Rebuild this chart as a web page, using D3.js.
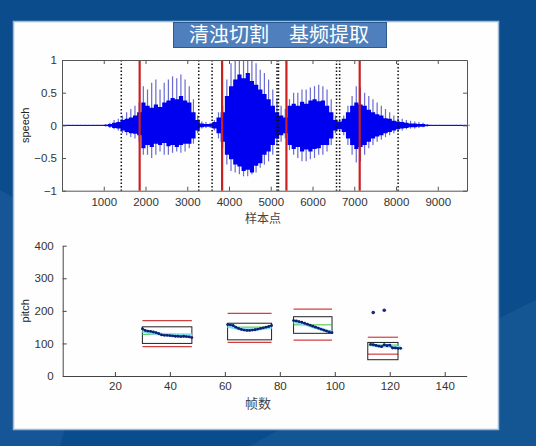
<!DOCTYPE html>
<meta charset="utf-8">
<style>
  body { margin: 0; background: #0b4c8c; }
  svg text { font-family: "Liberation Sans", Arial, sans-serif; }
  .tick text { fill: #333; font-size: 11.5px; font-family: "Liberation Sans Narrow", "Liberation Sans", Arial, sans-serif; }
  .zh { font-family: "Noto Sans CJK SC", sans-serif; }
</style>
<script src="https://d3js.org/d3.v7.min.js"></script>
<div id="chart"></div>
<script>
// ---- top plot: speech waveform, one entry per 100 samples (0..9700)
const sampleStep = 100;
const spikeTop = [0.01,0.01,0.01,0.01,0.01,0.01,0.01,0.01,0.01,0.01,
  0.02,0.04,0.08,0.1,0.15,0.2,0.25,0.3,0.35,0.6,
  0.55,0.65,0.7,0.55,0.65,0.7,0.75,0.72,0.78,0.7,
  0.6,0.4,0.15,0.06,0.05,0.04,0.08,0.2,0.3,0.7,
  0.95,1,1,1,1,1,0.95,0.85,0.8,0.7,
  0.55,0.4,0.3,0.25,0.4,0.5,0.5,0.55,0.55,0.58,
  0.6,0.62,0.6,0.55,0.4,0.15,0.1,0.15,0.3,0.45,
  0.6,0.58,0.5,0.45,0.4,0.35,0.3,0.25,0.2,0.15,
  0.12,0.1,0.08,0.07,0.06,0.05,0.04,0.02,0.01,0.01,
  0.01,0.01,0.01,0.01,0.01,0.01,0.01,0.01];
const coreTop = [0.005,0.005,0.005,0.005,0.005,0.005,0.005,0.005,0.005,0.005,
  0.01,0.02,0.04,0.05,0.08,0.1,0.12,0.15,0.2,0.35,
  0.3,0.27,0.32,0.28,0.35,0.38,0.42,0.4,0.45,0.38,
  0.35,0.2,0.08,0.03,0.02,0.02,0.05,0.12,0.2,0.45,
  0.6,0.7,0.78,0.72,0.8,0.68,0.62,0.55,0.48,0.4,
  0.3,0.2,0.15,0.12,0.3,0.33,0.3,0.36,0.33,0.38,
  0.4,0.37,0.38,0.3,0.2,0.08,0.06,0.1,0.2,0.3,
  0.35,0.32,0.3,0.24,0.2,0.17,0.15,0.11,0.1,0.07,
  0.06,0.05,0.04,0.03,0.03,0.02,0.02,0.01,0.005,0.005,
  0.005,0.005,0.005,0.005,0.005,0.005,0.005,0.005];
const coreBottom = [-0.005,-0.005,-0.005,-0.005,-0.005,-0.005,-0.005,-0.005,-0.005,-0.005,
  -0.01,-0.02,-0.04,-0.05,-0.08,-0.1,-0.12,-0.13,-0.15,-0.35,
  -0.3,-0.33,-0.28,-0.3,-0.27,-0.32,-0.3,-0.33,-0.3,-0.28,
  -0.28,-0.2,-0.08,-0.03,-0.02,-0.02,-0.05,-0.12,-0.25,-0.45,
  -0.52,-0.6,-0.63,-0.7,-0.68,-0.72,-0.62,-0.58,-0.45,-0.4,
  -0.3,-0.2,-0.15,-0.12,-0.3,-0.36,-0.33,-0.4,-0.37,-0.4,
  -0.36,-0.35,-0.3,-0.3,-0.2,-0.08,-0.06,-0.1,-0.2,-0.3,
  -0.36,-0.33,-0.3,-0.25,-0.2,-0.17,-0.15,-0.12,-0.1,-0.08,
  -0.06,-0.05,-0.04,-0.03,-0.03,-0.02,-0.02,-0.01,-0.005,-0.005,
  -0.005,-0.005,-0.005,-0.005,-0.005,-0.005,-0.005,-0.005];
const spikeBottom = [-0.01,-0.01,-0.01,-0.01,-0.01,-0.01,-0.01,-0.01,-0.01,-0.01,
  -0.02,-0.04,-0.06,-0.08,-0.12,-0.15,-0.18,-0.2,-0.25,-0.45,
  -0.45,-0.5,-0.45,-0.4,-0.45,-0.45,-0.42,-0.4,-0.42,-0.4,
  -0.35,-0.28,-0.12,-0.05,-0.04,-0.04,-0.08,-0.2,-0.35,-0.6,
  -0.7,-0.72,-0.75,-0.78,-0.78,-0.75,-0.72,-0.65,-0.6,-0.55,
  -0.45,-0.3,-0.25,-0.2,-0.38,-0.45,-0.5,-0.55,-0.55,-0.52,
  -0.5,-0.45,-0.45,-0.4,-0.3,-0.12,-0.1,-0.15,-0.3,-0.45,
  -0.57,-0.55,-0.45,-0.35,-0.3,-0.25,-0.22,-0.18,-0.15,-0.12,
  -0.1,-0.08,-0.06,-0.05,-0.05,-0.04,-0.03,-0.02,-0.01,-0.01,
  -0.01,-0.01,-0.01,-0.01,-0.01,-0.01,-0.01,-0.01];
const voicedCuts = [1860, 3835, 5375, 7130];          // red solid lines
const segmentCuts = [1420, 3275, 3595, 5150, 5185, 6575, 6650, 8050]; // black dotted
const topXTicks = [1000,2000,3000,4000,5000,6000,7000,8000,9000];
const topYTicks = [-1,-0.5,0,0.5,1];

// ---- bottom plot: pitch per frame
const pitchFrames = [
  [30,31,32,33,34,35,36,37,38,39,40,41,42,43,44,45,46,47,48],
  [61,62,63,64,65,66,67,68,69,70,71,72,73,74,75,76,77],
  [85,86,87,88,89,90,91,92,93,94,95,96,97,98,99],
  [113,114,115,116,117,118,119,120,121,122,123,124]
];
const pitchValues = [
  [145,140,138,137,135,133,130,126,125,125,124,123,122,122,121,122,121,120,118],
  [158,157,155,150,146,143,141,140,140,141,142,144,146,148,150,152,155],
  [170,169,167,165,162,159,156,153,150,147,144,141,138,135,133],
  [97,96,94,92,90,96,93,95,86,86,85,85]
];
const smoothValues = [
  [138,136,134,132,131,130,129,128,128,127,127,127,126,126,126,126,126,126,126],
  [152,151,149,147,145,144,143,142,142,142,143,144,145,146,147,148,149],
  [166,165,163,161,159,157,154,151,149,146,143,141,139,137,135],
  [95,94,93,92,92,92,92,91,90,89,88,88]
];
const boxStart = [30, 61, 85, 112];
const boxEnd   = [48, 77, 99, 123];
const boxLow   = [100, 111, 131, 50];
const boxHigh  = [151, 162, 182, 103];
const redLow   = [90, 103, 110, 67];
const redHigh  = [170, 192, 205, 119];
const meanLine = [128, 150, 157, 95];
const outlierFrames = [114, 118];
const outlierPitch = [195, 202];
const botXTicks = [20,40,60,80,100,120,140];
const botYTicks = [0,100,200,300,400];

const svg = d3.select("#chart").append("svg")
  .attr("width", 536).attr("height", 446);

// background and faint swooshes
svg.append("rect").attr("width", 536).attr("height", 446).attr("fill", "#0b4c8c");
svg.append("path")
  .attr("d", "M0,190 Q120,250 60,446 L0,446 Z")
  .attr("fill", "#2a6aa8").attr("opacity", 0.35);
svg.append("path")
  .attr("d", "M250,446 Q330,400 536,300 L536,446 Z")
  .attr("fill", "#2a6aa8").attr("opacity", 0.3);

// white panel
svg.append("rect")
  .attr("x", 13.5).attr("y", 21.5).attr("width", 485).attr("height", 408)
  .attr("fill", "#fefefe").attr("stroke", "#9fb8d6").attr("stroke-width", 1.5);

// title box
svg.append("rect")
  .attr("x", 173.5).attr("y", 22.5).attr("width", 213).attr("height", 25)
  .attr("fill", "#4f7fbc").attr("stroke", "#2d5a8e").attr("stroke-width", 1);
svg.append("text")
  .attr("class", "zh")
  .attr("x", 279).attr("y", 42)
  .attr("text-anchor", "middle")
  .attr("fill", "white").style("font-size", "20px")
  .text("清浊切割\u3000基频提取");

// ===== top plot =====
const xT = d3.scaleLinear().domain([0, 9700]).range([62, 467]);
const yT = d3.scaleLinear().domain([-1, 1]).range([190.7, 60]);

const topPlot = svg.append("g");
const idx = d3.range(spikeTop.length);

// zero line
topPlot.append("line")
  .attr("x1", xT(0)).attr("x2", xT(9700))
  .attr("y1", yT(0)).attr("y2", yT(0))
  .attr("stroke", "#0000ff").attr("stroke-width", 1);

// spikes (peaks of pitch periods)
topPlot.append("g").selectAll("line")
  .data(idx)
  .join("line")
    .attr("x1", i => xT(i * sampleStep) + 2)
    .attr("x2", i => xT(i * sampleStep) + 2)
    .attr("y1", i => yT(spikeTop[i]))
    .attr("y2", i => yT(spikeBottom[i]))
    .attr("stroke", "#6a6ad0").attr("stroke-width", 1.2);

// dense core
topPlot.append("path")
  .datum(idx)
  .attr("d", d3.area()
    .curve(d3.curveStepAfter)
    .x(i => xT(i * sampleStep))
    .y0(i => yT(coreBottom[i]))
    .y1(i => yT(coreTop[i])))
  .attr("fill", "#0000f0");

// cut lines
topPlot.append("g").selectAll("line")
  .data(segmentCuts)
  .join("line")
    .attr("x1", d => xT(d)).attr("x2", d => xT(d))
    .attr("y1", yT(1)).attr("y2", yT(-1))
    .attr("stroke", "#111").attr("stroke-width", 1.5)
    .attr("stroke-dasharray", "1.5,2");
topPlot.append("g").selectAll("line")
  .data(voicedCuts)
  .join("line")
    .attr("x1", d => xT(d)).attr("x2", d => xT(d))
    .attr("y1", yT(1)).attr("y2", yT(-1))
    .attr("stroke", "#cc2020").attr("stroke-width", 2.2);

// axes with inward ticks and box
topPlot.append("g")
  .attr("transform", `translate(0,${yT(-1)})`)
  .call(d3.axisBottom(xT).tickValues(topXTicks).tickFormat(d3.format("d")).tickSize(-4).tickPadding(7).tickSizeOuter(0));
topPlot.append("g")
  .attr("transform", `translate(${xT(0)},0)`)
  .call(d3.axisLeft(yT).tickValues(topYTicks).tickFormat(d3.format("")).tickSize(-4).tickPadding(5).tickSizeOuter(0));
topPlot.append("g")
  .attr("transform", `translate(0,${yT(1)})`)
  .call(d3.axisTop(xT).tickValues(topXTicks).tickSize(-4).tickFormat("").tickSizeOuter(0));
topPlot.append("g")
  .attr("transform", `translate(${xT(9700)},0)`)
  .call(d3.axisRight(yT).tickValues(topYTicks).tickSize(-4).tickFormat("").tickSizeOuter(0));
topPlot.selectAll(".domain, .tick line").attr("stroke", "#555");

topPlot.append("text")
  .attr("transform", `translate(29,${yT(0)}) rotate(-90)`)
  .attr("text-anchor", "middle").attr("fill", "#222")
  .style("font-size", "11px").text("speech");
topPlot.append("text")
  .attr("class", "zh")
  .attr("x", 263).attr("y", 223)
  .attr("text-anchor", "middle").attr("fill", "#444")
  .style("font-size", "12px").text("样本点");

// ===== bottom plot =====
const xB = d3.scaleLinear().domain([1, 148]).range([62.7, 466.7]);
const yB = d3.scaleLinear().domain([0, 400]).range([376, 245.7]);
const bot = svg.append("g");

pitchFrames.forEach((frames, s) => {
  const g = bot.append("g");
  // red limits
  [redLow[s], redHigh[s]].forEach(v => {
    g.append("line")
      .attr("x1", xB(boxStart[s])).attr("x2", xB(boxEnd[s]))
      .attr("y1", yB(v)).attr("y2", yB(v))
      .attr("stroke", "#d04040").attr("stroke-width", 1.2);
  });
  // black box
  g.append("rect")
    .attr("x", xB(boxStart[s])).attr("y", yB(boxHigh[s]))
    .attr("width", xB(boxEnd[s]) - xB(boxStart[s]))
    .attr("height", yB(boxLow[s]) - yB(boxHigh[s]))
    .attr("fill", "none").attr("stroke", "#222").attr("stroke-width", 1);
  // mean line
  g.append("line")
    .attr("x1", xB(boxStart[s])).attr("x2", xB(boxEnd[s]))
    .attr("y1", yB(meanLine[s])).attr("y2", yB(meanLine[s]))
    .attr("stroke", "#40c040").attr("stroke-width", 1);
  // smoothed contour
  g.append("path")
    .datum(frames.map((f, i) => [f, smoothValues[s][i]]))
    .attr("d", d3.line().x(d => xB(d[0])).y(d => yB(d[1])))
    .attr("fill", "none").attr("stroke", "#7fe0f0").attr("stroke-width", 3);
  // pitch contour
  const pts = frames.map((f, i) => [f, pitchValues[s][i]]);
  g.append("path")
    .datum(pts)
    .attr("d", d3.line().x(d => xB(d[0])).y(d => yB(d[1])))
    .attr("fill", "none").attr("stroke", "#1a3bd0").attr("stroke-width", 1.8);
  g.selectAll("circle")
    .data(pts)
    .join("circle")
      .attr("cx", d => xB(d[0])).attr("cy", d => yB(d[1]))
      .attr("r", 1.4).attr("fill", "#10206a");
});

bot.append("g").selectAll("circle")
  .data(outlierFrames)
  .join("circle")
    .attr("cx", d => xB(d))
    .attr("cy", (d, i) => yB(outlierPitch[i]))
    .attr("r", 1.8).attr("fill", "#1a2a80");

bot.append("g")
  .attr("transform", `translate(0,${yB(0)})`)
  .call(d3.axisBottom(xB).tickValues(botXTicks).tickSize(-4).tickPadding(6).tickSizeOuter(0));
bot.append("g")
  .attr("transform", `translate(${xB(1)},0)`)
  .call(d3.axisLeft(yB).tickValues(botYTicks).tickSize(-4).tickPadding(9).tickSizeOuter(0));
bot.selectAll(".domain, .tick line").attr("stroke", "#444");

bot.append("text")
  .attr("transform", `translate(29,${yB(200)}) rotate(-90)`)
  .attr("text-anchor", "middle").attr("fill", "#222")
  .style("font-size", "11px").text("pitch");
bot.append("text")
  .attr("class", "zh")
  .attr("x", 258).attr("y", 408)
  .attr("text-anchor", "middle").attr("fill", "#444")
  .style("font-size", "13px").text("帧数");
</script>
